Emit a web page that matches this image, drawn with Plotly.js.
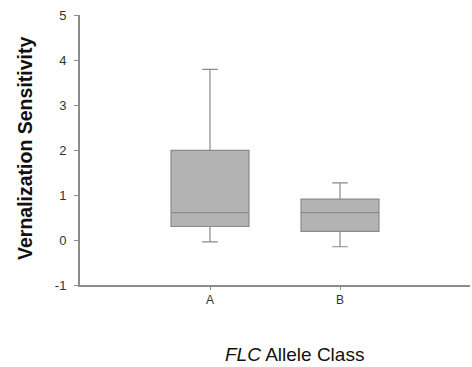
<!DOCTYPE html>
<html>
<head>
<meta charset="utf-8">
<script src="https://cdn.plot.ly/plotly-3.0.1.min.js"></script>
<style>html,body{margin:0;padding:0;background:#fff;}#chart{width:472px;height:367px;}</style>
</head>
<body>
<div id="chart"></div>
<script>
const categories = ["A", "B"];
const lowerWhisker = [-0.04, -0.15];
const q1Values = [0.30, 0.19];
const medianValues = [0.61, 0.61];
const q3Values = [1.99, 0.91];
const upperWhisker = [3.79, 1.27];
const yTickValues = [-1, 0, 1, 2, 3, 4, 5];
const yTickLabels = ["-1", "0", "1", "2", "3", "4", "5"];

const trace = {
  type: "box",
  x: categories,
  q1: q1Values,
  median: medianValues,
  q3: q3Values,
  lowerfence: lowerWhisker,
  upperfence: upperWhisker,
  width: 0.6,
  whiskerwidth: 0.2,
  fillcolor: "#b3b3b3",
  line: {color: "#8a8a8a", width: 1.2},
  boxpoints: false,
  hoverinfo: "none",
  showlegend: false
};

const layout = {
  width: 472, height: 367,
  margin: {l: 80, r: 2, t: 15, b: 82},
  paper_bgcolor: "#ffffff",
  plot_bgcolor: "#ffffff",
  font: {family: "Liberation Sans, Arial, sans-serif", color: "#333333"},
  xaxis: {
    type: "category",
    range: [-1, 2],
    showline: true, linecolor: "#8c8c8c", linewidth: 2,
    ticks: "outside", ticklen: 3, tickcolor: "#8c8c8c", tickwidth: 1,
    showgrid: false, zeroline: false,
    tickfont: {size: 12, color: "#333333"},
    fixedrange: true
  },
  yaxis: {
    range: [-1, 5],
    tickvals: yTickValues,
    ticktext: yTickLabels,
    showline: true, linecolor: "#8c8c8c", linewidth: 2,
    ticks: "outside", ticklen: 4, tickcolor: "#8c8c8c", tickwidth: 1,
    showgrid: false, zeroline: false,
    tickfont: {size: 13, color: "#333333"},
    ticklabelstandoff: 5,
    fixedrange: true
  },
  annotations: [
    {
      text: "<i>FLC</i> Allele Class",
      xref: "paper", yref: "paper",
      x: 0.551, y: -0.259,
      xanchor: "center", yanchor: "middle",
      showarrow: false,
      font: {size: 19, color: "#111111"}
    },
    {
      text: "<b>Vernalization Sensitivity</b>",
      xref: "paper", yref: "paper",
      x: -0.141, y: 0.504,
      xanchor: "center", yanchor: "middle",
      textangle: -90,
      showarrow: false,
      font: {size: 19.5, color: "#111111"}
    }
  ]
};

Plotly.newPlot("chart", [trace], layout, {displayModeBar: false, staticPlot: true});
</script>
</body>
</html>
